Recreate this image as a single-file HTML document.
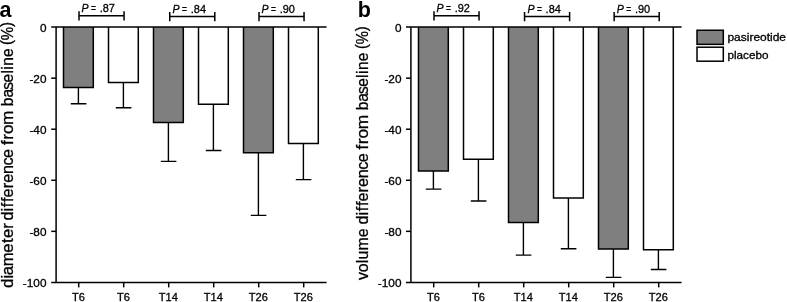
<!DOCTYPE html>
<html lang="en">
<head>
<meta charset="utf-8">
<title>Figure</title>
<style>
html,body{margin:0;padding:0;background:#fff;}
body{width:787px;height:302px;overflow:hidden;}
svg{display:block;}
text{font-family:"Liberation Sans",sans-serif;fill:#000;stroke:#000;stroke-width:0.3px;}
.l{fill:none;stroke:#000;stroke-width:1.5;}
.b{stroke:#000;stroke-width:1.5;}
.e{stroke-width:1.4;}
.t{font-size:11.1px;}
.ty{font-size:11.3px;}
.p{font-size:11.6px;}
.yl{font-size:16.3px;}
.lg{font-size:11px;}
.pl{font-size:21.5px;font-weight:bold;stroke:none;}
</style>
</head>
<body>
<svg width="787" height="302" viewBox="0 0 787 302">
<rect x="0" y="0" width="787" height="302" fill="#ffffff"/>
<path d="M78.40 87.40V103.70M70.80 103.70H86.40" class="l e"/>
<path d="M63.50 27.10V87.40H93.30V27.10" fill="#7f7f7f" class="b"/>
<path d="M123.40 82.50V107.70M115.80 107.70H131.40" class="l e"/>
<path d="M108.50 27.10V82.50H138.30V27.10" fill="#ffffff" class="b"/>
<path d="M168.40 122.50V161.35M160.80 161.35H176.40" class="l e"/>
<path d="M153.50 27.10V122.50H183.30V27.10" fill="#7f7f7f" class="b"/>
<path d="M213.40 104.30V150.55M205.80 150.55H221.40" class="l e"/>
<path d="M198.50 27.10V104.30H228.30V27.10" fill="#ffffff" class="b"/>
<path d="M258.40 152.70V215.35M250.80 215.35H266.40" class="l e"/>
<path d="M243.50 27.10V152.70H273.30V27.10" fill="#7f7f7f" class="b"/>
<path d="M303.40 143.50V179.65M295.80 179.65H311.40" class="l e"/>
<path d="M288.50 27.10V143.50H318.30V27.10" fill="#ffffff" class="b"/>
<path d="M56.10 27.10V282.40" class="l"/>
<path d="M51.20 27.10H326.60M51.20 282.40H326.60" class="l"/>
<path d="M51.20 78.16H56.10" class="l"/>
<path d="M51.20 129.22H56.10" class="l"/>
<path d="M51.20 180.28H56.10" class="l"/>
<path d="M51.20 231.34H56.10" class="l"/>
<text transform="translate(46.50 31.70) scale(1.045 1)" text-anchor="end" class="ty">0</text>
<text transform="translate(46.50 82.76) scale(1.045 1)" text-anchor="end" class="ty">-20</text>
<text transform="translate(46.50 133.82) scale(1.045 1)" text-anchor="end" class="ty">-40</text>
<text transform="translate(46.50 184.88) scale(1.045 1)" text-anchor="end" class="ty">-60</text>
<text transform="translate(46.50 235.94) scale(1.045 1)" text-anchor="end" class="ty">-80</text>
<text transform="translate(46.50 287.00) scale(1.045 1)" text-anchor="end" class="ty">-100</text>
<path d="M78.70 282.40V287.40" class="l"/>
<text x="78.40" y="300.7" text-anchor="middle" class="t">T6</text>
<path d="M123.70 282.40V287.40" class="l"/>
<text x="123.40" y="300.7" text-anchor="middle" class="t">T6</text>
<path d="M168.70 282.40V287.40" class="l"/>
<text x="168.40" y="300.7" text-anchor="middle" class="t">T14</text>
<path d="M213.70 282.40V287.40" class="l"/>
<text x="213.40" y="300.7" text-anchor="middle" class="t">T14</text>
<path d="M258.70 282.40V287.40" class="l"/>
<text x="258.40" y="300.7" text-anchor="middle" class="t">T26</text>
<path d="M303.70 282.40V287.40" class="l"/>
<text x="303.40" y="300.7" text-anchor="middle" class="t">T26</text>
<path d="M79.00 11.20V20.40M124.05 11.20V20.40M79.00 15.80H124.05" class="l"/>
<text x="81.50" y="12.40" class="p" font-style="italic" textLength="7.05" lengthAdjust="spacingAndGlyphs">P</text>
<text x="90.98" y="12.40" class="p" textLength="4.94" lengthAdjust="spacingAndGlyphs">=</text>
<text x="99.70" y="12.40" class="p" textLength="15.25" lengthAdjust="spacingAndGlyphs">.87</text>
<path d="M169.75 12.00V21.20M214.80 12.00V21.20M169.75 16.60H214.80" class="l"/>
<text x="172.60" y="12.70" class="p" font-style="italic" textLength="7.05" lengthAdjust="spacingAndGlyphs">P</text>
<text x="182.08" y="12.70" class="p" textLength="4.94" lengthAdjust="spacingAndGlyphs">=</text>
<text x="190.80" y="12.70" class="p" textLength="15.25" lengthAdjust="spacingAndGlyphs">.84</text>
<path d="M259.00 12.00V21.20M304.05 12.00V21.20M259.00 16.60H304.05" class="l"/>
<text x="261.50" y="12.70" class="p" font-style="italic" textLength="7.05" lengthAdjust="spacingAndGlyphs">P</text>
<text x="270.98" y="12.70" class="p" textLength="4.94" lengthAdjust="spacingAndGlyphs">=</text>
<text x="279.70" y="12.70" class="p" textLength="15.25" lengthAdjust="spacingAndGlyphs">.90</text>
<text transform="translate(13.10 287.90) rotate(-90) scale(1.0235 1)" class="yl" x="-0.05 9.12 12.44 21.10 34.44 43.82 48.67 57.72">diameter</text>
<text transform="translate(13.10 220.59) rotate(-90) scale(0.9970 1)" class="yl" x="-0.01 9.21 13.35 18.61 23.26 32.37 37.85 46.66 55.29 62.76">difference</text>
<text transform="translate(13.10 145.18) rotate(-90) scale(1.0521 1)" class="yl" x="0.25 5.18 10.57 19.23">from</text>
<text transform="translate(13.10 106.34) rotate(-90) scale(0.9540 1)" class="yl" x="0.19 9.23 17.51 25.06 34.32 38.44 42.50 51.71">baseline</text>
<text transform="translate(12.40 45.24) rotate(-90) scale(0.9213 1)" class="yl" x="0.19 5.43 19.73" y="0 0.8 0">(%)</text>
<text x="-0.40" y="16.6" class="pl">a</text>
<path d="M433.40 171.00V189.10M425.80 189.10H441.40" class="l e"/>
<path d="M418.50 27.10V171.00H448.30V27.10" fill="#7f7f7f" class="b"/>
<path d="M478.40 159.20V201.00M470.80 201.00H486.40" class="l e"/>
<path d="M463.50 27.10V159.20H493.30V27.10" fill="#ffffff" class="b"/>
<path d="M523.40 222.50V255.15M515.80 255.15H531.40" class="l e"/>
<path d="M508.50 27.10V222.50H538.30V27.10" fill="#7f7f7f" class="b"/>
<path d="M568.40 198.10V248.70M560.80 248.70H576.40" class="l e"/>
<path d="M553.50 27.10V198.10H583.30V27.10" fill="#ffffff" class="b"/>
<path d="M613.40 249.05V277.35M605.80 277.35H621.40" class="l e"/>
<path d="M598.50 27.10V249.05H628.30V27.10" fill="#7f7f7f" class="b"/>
<path d="M658.40 249.80V269.55M650.80 269.55H666.40" class="l e"/>
<path d="M643.50 27.10V249.80H673.30V27.10" fill="#ffffff" class="b"/>
<path d="M410.90 27.10V282.40" class="l"/>
<path d="M406.00 27.10H681.60M406.00 282.40H681.60" class="l"/>
<path d="M406.00 78.16H410.90" class="l"/>
<path d="M406.00 129.22H410.90" class="l"/>
<path d="M406.00 180.28H410.90" class="l"/>
<path d="M406.00 231.34H410.90" class="l"/>
<text transform="translate(401.50 31.70) scale(1.045 1)" text-anchor="end" class="ty">0</text>
<text transform="translate(401.50 82.76) scale(1.045 1)" text-anchor="end" class="ty">-20</text>
<text transform="translate(401.50 133.82) scale(1.045 1)" text-anchor="end" class="ty">-40</text>
<text transform="translate(401.50 184.88) scale(1.045 1)" text-anchor="end" class="ty">-60</text>
<text transform="translate(401.50 235.94) scale(1.045 1)" text-anchor="end" class="ty">-80</text>
<text transform="translate(401.50 287.00) scale(1.045 1)" text-anchor="end" class="ty">-100</text>
<path d="M433.70 282.40V287.40" class="l"/>
<text x="433.40" y="300.7" text-anchor="middle" class="t">T6</text>
<path d="M478.70 282.40V287.40" class="l"/>
<text x="478.40" y="300.7" text-anchor="middle" class="t">T6</text>
<path d="M523.70 282.40V287.40" class="l"/>
<text x="523.40" y="300.7" text-anchor="middle" class="t">T14</text>
<path d="M568.70 282.40V287.40" class="l"/>
<text x="568.40" y="300.7" text-anchor="middle" class="t">T14</text>
<path d="M613.70 282.40V287.40" class="l"/>
<text x="613.40" y="300.7" text-anchor="middle" class="t">T26</text>
<path d="M658.70 282.40V287.40" class="l"/>
<text x="658.40" y="300.7" text-anchor="middle" class="t">T26</text>
<path d="M434.00 11.20V20.40M479.05 11.20V20.40M434.00 15.80H479.05" class="l"/>
<text x="436.50" y="12.40" class="p" font-style="italic" textLength="7.05" lengthAdjust="spacingAndGlyphs">P</text>
<text x="445.98" y="12.40" class="p" textLength="4.94" lengthAdjust="spacingAndGlyphs">=</text>
<text x="454.70" y="12.40" class="p" textLength="15.25" lengthAdjust="spacingAndGlyphs">.92</text>
<path d="M524.55 12.00V21.20M569.60 12.00V21.20M524.55 16.60H569.60" class="l"/>
<text x="527.40" y="12.70" class="p" font-style="italic" textLength="7.05" lengthAdjust="spacingAndGlyphs">P</text>
<text x="536.88" y="12.70" class="p" textLength="4.94" lengthAdjust="spacingAndGlyphs">=</text>
<text x="545.60" y="12.70" class="p" textLength="15.25" lengthAdjust="spacingAndGlyphs">.84</text>
<path d="M614.15 12.00V21.20M659.20 12.00V21.20M614.15 16.60H659.20" class="l"/>
<text x="616.75" y="12.70" class="p" font-style="italic" textLength="7.05" lengthAdjust="spacingAndGlyphs">P</text>
<text x="626.23" y="12.70" class="p" textLength="4.94" lengthAdjust="spacingAndGlyphs">=</text>
<text x="634.95" y="12.70" class="p" textLength="15.25" lengthAdjust="spacingAndGlyphs">.90</text>
<text transform="translate(368.10 279.87) rotate(-90) scale(0.9752 1)" class="yl" x="-0.16 7.88 17.15 20.97 30.19 43.70">volume</text>
<text transform="translate(368.10 224.59) rotate(-90) scale(0.9936 1)" class="yl" x="-0.01 9.21 13.35 18.61 23.26 32.37 37.85 46.66 55.29 62.76">difference</text>
<text transform="translate(368.10 149.72) rotate(-90) scale(1.0650 1)" class="yl" x="0.25 5.18 10.57 19.23">from</text>
<text transform="translate(368.10 110.52) rotate(-90) scale(0.9511 1)" class="yl" x="0.19 9.23 17.51 25.06 34.32 38.44 42.50 51.71">baseline</text>
<text transform="translate(367.40 49.22) rotate(-90) scale(0.9076 1)" class="yl" x="0.19 5.43 19.73" y="0 0.8 0">(%)</text>
<text x="357.80" y="16.6" class="pl">b</text>
<rect x="697.0" y="30.25" width="26.3" height="14.1" fill="#7f7f7f" class="b" style="stroke-width:1.5"/>
<rect x="697.0" y="47.2" width="26.3" height="14.0" fill="#ffffff" class="b" style="stroke-width:1.5"/>
<text x="727.45" y="41.1" class="lg" textLength="58.6" lengthAdjust="spacingAndGlyphs">pasireotide</text>
<text x="727.45" y="58.5" class="lg" textLength="41.0" lengthAdjust="spacingAndGlyphs">placebo</text>
</svg>
</body>
</html>
